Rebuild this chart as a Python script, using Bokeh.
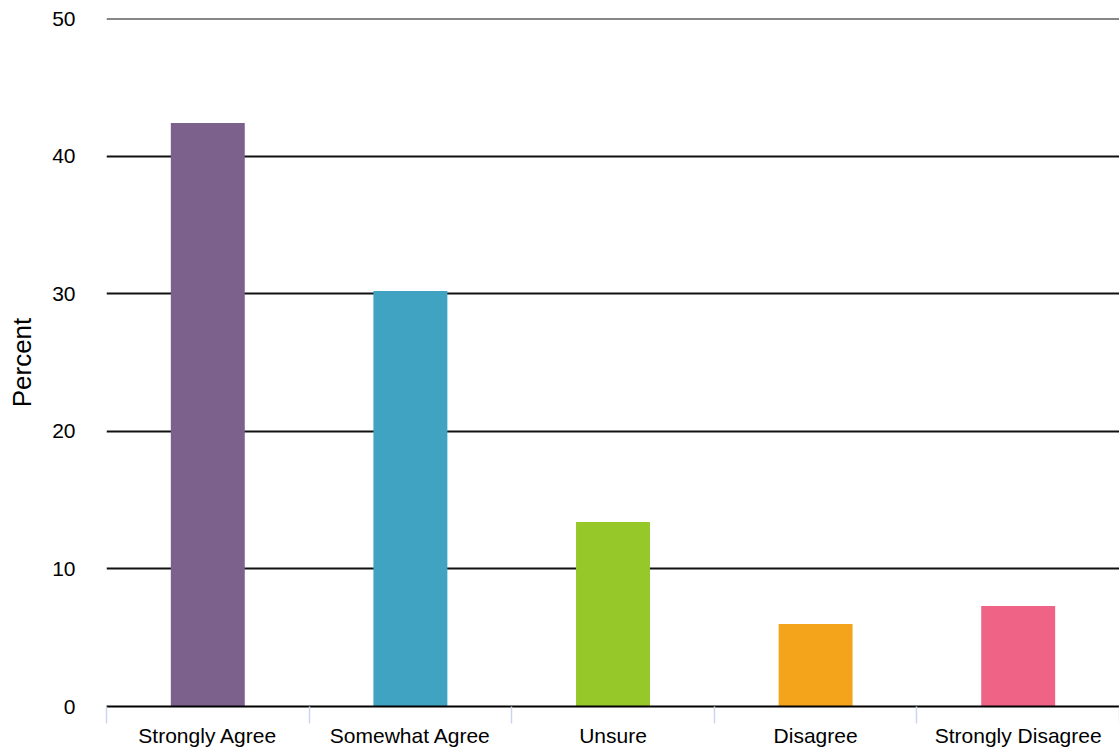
from bokeh.plotting import figure
from bokeh.models import Range1d, LinearAxis, FixedTicker, ColumnDataSource, Span
from bokeh.embed import file_html
from bokeh.resources import INLINE

categories = ["Strongly Agree", "Somewhat Agree", "Unsure", "Disagree", "Strongly Disagree"]
values = [42.4, 30.2, 13.4, 6.0, 7.3]
colors = ["#7C618D", "#41A3C2", "#97C829", "#F4A41B", "#EF6486"]
y_ticks = [0, 10, 20, 30, 40, 50]

centers = [i + 0.5 for i in range(len(categories))]
bounds = list(range(len(categories) + 1))

src = ColumnDataSource(dict(x=centers, top=values, color=colors, cat=categories))

p = figure(width=1119, height=752, output_backend="svg", toolbar_location=None,
           x_range=Range1d(0, len(categories)), y_range=Range1d(0, y_ticks[-1]),
           x_axis_type=None, min_border_left=106, min_border_right=0,
           min_border_top=18, min_border_bottom=46)
p.outline_line_color = None
p.background_fill_color = "white"
p.border_fill_color = "white"

p.vbar(x="x", top="top", width=0.365, fill_color="color", line_color=None, source=src)

# y axis
ya = p.yaxis[0]
ya.ticker = FixedTicker(ticks=y_ticks)
ya.axis_line_color = None
ya.major_tick_line_color = None
ya.minor_tick_line_color = None
ya.major_tick_out = 0
ya.major_tick_in = 0
ya.major_label_standoff = 31
ya.major_label_text_font = "Liberation Sans"
ya.major_label_text_font_size = "21px"
ya.major_label_text_color = "black"
ya.axis_label = "Percent"
ya.axis_label_text_font = "Liberation Sans"
ya.axis_label_text_font_size = "26px"
ya.axis_label_text_font_style = "normal"
ya.axis_label_text_color = "black"
ya.axis_label_standoff = 12

p.ygrid.ticker = FixedTicker(ticks=y_ticks[1:])
p.ygrid.grid_line_color = "#111111"
p.ygrid.grid_line_width = 2

# top grid line (grid skips the range end)
p.add_layout(Span(location=y_ticks[-1], dimension="width", line_color="#111111", line_width=2))

# boundary axis (ticks between categories)
bax = LinearAxis(ticker=FixedTicker(ticks=bounds))
bax.axis_line_color = "black"
bax.axis_line_width = 2
bax.major_tick_line_color = "#ccd6eb"
bax.major_tick_line_width = 1.5
bax.major_tick_in = 0
bax.major_tick_out = 17
bax.minor_tick_line_color = None
bax.major_label_text_font_size = "0px"
bax.major_label_standoff = 0
bax.major_label_overrides = {b: "" for b in bounds}
p.add_layout(bax, "below")

# label axis (category names)
lax = LinearAxis(ticker=FixedTicker(ticks=centers))
lax.axis_line_color = None
lax.major_tick_line_color = None
lax.minor_tick_line_color = None
lax.major_tick_in = 0
lax.major_tick_out = 0
lax.major_label_standoff = 0
lax.major_label_text_font = "Liberation Sans"
lax.major_label_text_font_size = "21px"
lax.major_label_text_color = "black"
lax.major_label_overrides = {c: name for c, name in zip(centers, categories)}
p.add_layout(lax, "below")

open("out.html", "w").write(file_html(p, INLINE))
